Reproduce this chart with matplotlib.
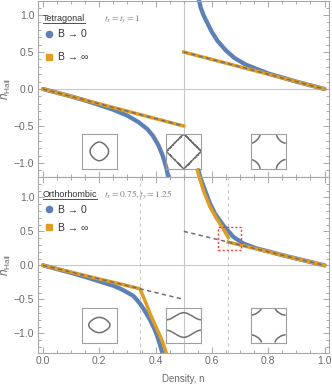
import numpy as np
import matplotlib
matplotlib.use('Agg')
import matplotlib.pyplot as plt
from matplotlib.lines import Line2D
from matplotlib.ticker import MultipleLocator

plt.rcParams['font.family'] = ['Liberation Sans', 'DejaVu Sans']
plt.rcParams['mathtext.fontset'] = 'custom'
plt.rcParams['mathtext.rm'] = 'Liberation Sans'
plt.rcParams['mathtext.it'] = 'Liberation Sans:italic'

# --- data ---
# Tetragonal, t_x = t_y = 1
n_tet_b0_lo = [0.0, 0.05, 0.10, 0.15, 0.20, 0.25, 0.30, 0.34, 0.37, 0.39, 0.41, 0.425, 0.437, 0.448]
hall_tet_b0_lo = [0.0, -0.05, -0.10, -0.155, -0.215, -0.28, -0.36, -0.45, -0.54, -0.63, -0.76, -0.90, -1.05, -1.24]
n_tet_b0_hi = [0.553, 0.56, 0.57, 0.58, 0.60, 0.62, 0.65, 0.68, 0.72, 0.76, 0.80, 0.85, 0.90, 0.95, 1.0]
hall_tet_b0_hi = [1.22, 1.10, 1.00, 0.92, 0.77, 0.65, 0.52, 0.42, 0.33, 0.27, 0.21, 0.155, 0.10, 0.05, 0.0]

# classical lines n_H = -n and n_H = 1 - n (B -> infinity, tetragonal)
n_line_lo = [0.0, 0.5]
hall_line_lo = [0.0, -0.5]
n_line_hi = [0.5, 1.0]
hall_line_hi = [0.5, 0.0]

# Orthorhombic, t_x = 0.75, t_y = 1.25
n_ort_b0_lo = [0.0, 0.05, 0.10, 0.15, 0.20, 0.25, 0.273, 0.30, 0.321, 0.344, 0.36, 0.38, 0.395, 0.404, 0.415, 0.425]
hall_ort_b0_lo = [0.0, -0.055, -0.11, -0.17, -0.235, -0.30, -0.34, -0.40, -0.45, -0.56, -0.66, -0.80, -0.93, -1.02, -1.16, -1.30]
n_ort_b0_hi = [0.552, 0.558, 0.575, 0.593, 0.611, 0.64, 0.676, 0.712, 0.758, 0.805, 0.85, 0.90, 0.95, 1.0]
hall_ort_b0_hi = [1.40, 1.30, 1.11, 0.91, 0.76, 0.59, 0.42, 0.32, 0.25, 0.20, 0.15, 0.10, 0.05, 0.0]

n_ort_inf_lo = [0.0, 0.344, 0.35, 0.356, 0.37, 0.38, 0.392, 0.404, 0.416, 0.427, 0.438]
hall_ort_inf_lo = [0.0, -0.344, -0.40, -0.46, -0.60, -0.71, -0.82, -0.93, -1.04, -1.15, -1.29]
n_ort_inf_mid = [0.548, 0.555, 0.569, 0.593, 0.616, 0.64, 0.658]
hall_ort_inf_mid = [1.40, 1.30, 1.11, 0.86, 0.69, 0.54, 0.41]
n_ort_inf_hi = [0.658, 1.0]
hall_ort_inf_hi = [0.342, 0.0]

van_hove_ort = [0.344, 0.658]
box_n = [0.622, 0.702]
box_hall = [0.225, 0.559]

# Fermi surface insets: hopping and chemical potential
inset_centers = [0.2, 0.5, 0.8]
mu_tet = [-1.8, 0.0, 1.8]
mu_ort = [-2.0, 0.0, 2.0]

BLUE = '#5e81b5'
ORANGE = '#e19c24'
DASH = '#6f6f6f'
FRAME = '#a8a8a8'
GRID = '#c8c8c8'
TEXT = '#6b6b6b'
DARK = '#333333'

fig = plt.figure(figsize=(3.32, 3.85), dpi=100)
ax_top = fig.add_axes([37.7 / 332, 1 - 176.7 / 385, 291.6 / 332, 175.7 / 385])
ax_bot = fig.add_axes([37.7 / 332, 1 - 352.7 / 385, 291.6 / 332, 175.7 / 385])


def style_axes(ax, ylim, show_xlabels):
    ax.set_xlim(-0.019, 1.017)
    ax.set_ylim(*ylim)
    ax.xaxis.set_major_locator(MultipleLocator(0.2))
    ax.xaxis.set_minor_locator(MultipleLocator(0.05))
    ax.yaxis.set_major_locator(MultipleLocator(0.5))
    ax.yaxis.set_minor_locator(MultipleLocator(0.1))
    ax.tick_params(which='both', direction='in', top=True, right=True, color=FRAME,
                   labelcolor=TEXT, labelsize=7.5, width=0.7, pad=2.5)
    ax.tick_params(which='major', length=4)
    ax.tick_params(which='minor', length=2)
    for s in ax.spines.values():
        s.set_color(FRAME)
        s.set_linewidth(0.8)
    if not show_xlabels:
        ax.tick_params(labelbottom=False)
    ax.axhline(0, color=GRID, lw=0.8, zorder=0)
    ax.axvline(0.5, color=GRID, lw=0.8, zorder=0)
    ax.set_ylabel(r'$n_{\mathrm{Hall}}$', color=TEXT, fontsize=8.5)
    ax.yaxis.set_label_coords(-0.084, 0.5)


def add_inset(ax, center, y0, h, tx, ty, mu):
    w = 0.124
    ins = ax.inset_axes([center - w / 2, y0, w, h], transform=ax.transData)
    k = np.linspace(-np.pi, np.pi, 301)
    kx, ky = np.meshgrid(k, k)
    energy = -2 * (tx * np.cos(kx) + ty * np.cos(ky))
    ins.contour(kx, ky, energy, levels=[mu], colors='#707070', linewidths=1.1,
                linestyles='solid')
    ins.set_xlim(-np.pi, np.pi)
    ins.set_ylim(-np.pi, np.pi)
    ins.set_xticks([])
    ins.set_yticks([])
    ins.set_facecolor('none')
    for s in ins.spines.values():
        s.set_color('#a0a0a0')
        s.set_linewidth(0.8)


def add_header(ax, name, params, y, spacing):
    t = ax.text(0.018, y, name, transform=ax.transAxes, fontsize=6.5, color=DARK, va='center')
    ax.text(0.2274, y, params, transform=ax.transAxes, fontsize=6.8, color='#808080',
            va='center', math_fontfamily='stix')
    fig.canvas.draw()
    bb = t.get_window_extent()
    inv = ax.transAxes.inverted()
    (x0, y0), (x1, _) = inv.transform([(bb.x0, bb.y0 + 0.5), (bb.x1, bb.y0 + 0.5)])
    ax.plot([x0, x1], [y0, y0], transform=ax.transAxes, color=DARK, lw=0.6, clip_on=False)
    handles = [Line2D([], [], ls='', marker='o', ms=4.5, color=BLUE),
               Line2D([], [], ls='', marker='s', ms=4.2, color=ORANGE)]
    ax.legend(handles, ['B → 0', 'B → ∞'], loc='upper left', bbox_to_anchor=(0.0245, y - 0.06),
              frameon=False, fontsize=7.5, handlelength=0.8, handletextpad=0.45,
              borderpad=0, borderaxespad=0, labelspacing=spacing, labelcolor=DARK)


# top panel: tetragonal
style_axes(ax_top, (-1.185, 1.19), False)
ax_top.plot(n_tet_b0_lo, hall_tet_b0_lo, color=BLUE, lw=3.1, solid_capstyle='round', clip_on=False)
ax_top.plot(n_tet_b0_hi, hall_tet_b0_hi, color=BLUE, lw=3.1, solid_capstyle='round', clip_on=False)
for nn, hh in [(n_line_lo, hall_line_lo), (n_line_hi, hall_line_hi)]:
    ax_top.plot(nn, hh, color=ORANGE, lw=2.5)
    ax_top.plot(nn, hh, color=DASH, lw=1.1, dashes=(2.8, 2.2))
for c, mu in zip(inset_centers, mu_tet):
    add_inset(ax_top, c, -1.08, 0.474, 1.0, 1.0, mu)
add_header(ax_top, 'Tetragonal', r'$t_x = t_y = 1$', 0.898, 1.25)

# bottom panel: orthorhombic
style_axes(ax_bot, (-1.285, 1.30), True)
for v in van_hove_ort:
    ax_bot.axvline(v, color=GRID, lw=0.8, dashes=(3, 3), zorder=0)
ax_bot.plot(n_ort_b0_lo, hall_ort_b0_lo, color=BLUE, lw=3.1, solid_capstyle='round')
ax_bot.plot(n_ort_b0_hi, hall_ort_b0_hi, color=BLUE, lw=3.1, solid_capstyle='round', clip_on=False)
ax_bot.plot(n_ort_inf_lo, hall_ort_inf_lo, color=ORANGE, lw=2.5)
ax_bot.plot(n_ort_inf_mid, hall_ort_inf_mid, color=ORANGE, lw=2.5, clip_on=False)
ax_bot.plot(n_ort_inf_hi, hall_ort_inf_hi, color=ORANGE, lw=2.5)
ax_bot.plot(n_line_lo, hall_line_lo, color=DASH, lw=1.1, dashes=(2.8, 2.2))
ax_bot.plot(n_line_hi, hall_line_hi, color=DASH, lw=1.1, dashes=(2.8, 2.2))
ax_bot.plot([box_n[0], box_n[1], box_n[1], box_n[0], box_n[0]],
            [box_hall[0], box_hall[0], box_hall[1], box_hall[1], box_hall[0]],
            color='#e8403a', lw=1.0, ls=(0, (1.5, 1.5)))
for c, mu in zip(inset_centers, mu_ort):
    add_inset(ax_bot, c, -1.135, 0.515, 0.75, 1.25, mu)
add_header(ax_bot, 'Orthorhombic', r'$t_x = 0.75, t_y = 1.25$', 0.90, 0.77)
ax_bot.set_xlabel('Density, n', color=TEXT, fontsize=7)
ax_bot.xaxis.set_label_coords(0.5, -0.12)

fig.savefig('out.png', dpi=100)
